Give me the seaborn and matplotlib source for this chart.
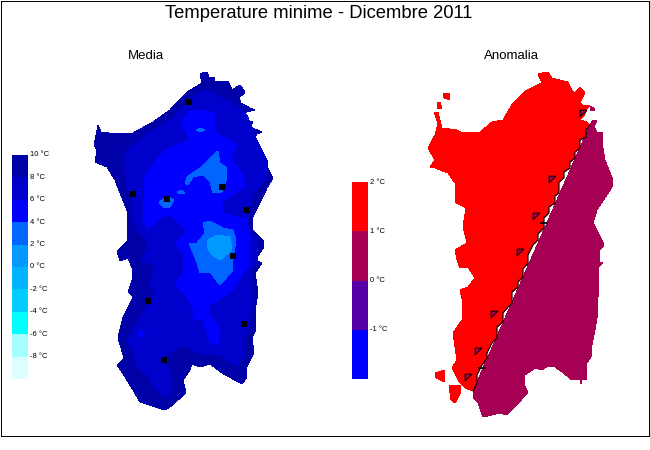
import matplotlib
matplotlib.use("Agg")
import matplotlib.pyplot as plt
import numpy as np
import seaborn as sns
from matplotlib.colors import ListedColormap

sns.set_theme(style="white")
plt.rcParams['font.family'] = ['Liberation Sans', 'DejaVu Sans']

TITLE = "Temperature minime - Dicembre 2011"
media_levels = ["10 °C", "8 °C", "6 °C", "4 °C", "2 °C", "0 °C", "-2 °C", "-4 °C", "-6 °C", "-8 °C"]
media_colors = ["#0000a8", "#0000cc", "#0000ff", "#0066ff", "#0099ff", "#00b3ff", "#00ccff", "#00ffff", "#a6ffff", "#ddffff"]
anom_levels = ["2 °C", "1 °C", "0 °C", "-1 °C"]
anom_colors = ["#ff0000", "#a60055", "#5500a6", "#0000ff"]

outline = [(200,74),(202,73),(207,72),(209,77),(214,77),(215,81),(228,81),(230,85),(232,90),(235,88),(240,85),(245,92),
           (243,95),(239,97),(241,103),(250,108),(255,110),(247,112),(238,115),(238,120),(245,121),(253,122),(250,127),
           (262,132),(257,134),(255,138),(263,153),(265,163),(273,178),(267,188),(253,217),(253,230),(263,240),
           (264,247),(255,260),(262,263),(255,273),(258,293),(255,310),(256,330),(252,338),(254,353),(247,367),(247,377),
           (242,384),(222,373),(210,364),(200,367),(192,364),(190,370),(183,380),(186,393),(170,407),(165,410),(140,402),
           (133,390),(125,377),(117,365),(124,358),(118,338),(123,317),(133,297),(128,292),(132,280),(133,270),(128,258),
           (120,261),(117,252),(128,240),(127,230),(128,213),(115,180),(107,167),(95,162),(97,150),(94,145),(98,125),
           (101,132),(117,134),(133,133),(153,122),(170,110),(187,92),(202,83)]
band_8 = [(207,90),(233,103),(247,115),(255,137),(267,160),(268,177),(253,193),(247,227),(257,240),(258,260),(250,273),
          (253,303),(247,333),(242,343),(245,353),(237,367),(220,355),(200,355),(185,345),(170,353),(163,360),(170,370),
          (172,390),(165,397),(153,387),(150,377),(137,367),(132,347),(127,343),(133,330),(143,313),(155,293),(150,283),
          (155,267),(142,260),(148,247),(145,237),(137,230),(132,215),(133,205),(127,187),(123,157),(130,147),(150,132),
          (170,120),(187,103),(203,90)]
band_6 = [(183,120),(190,110),(198,110),(215,113),(214,132),(237,145),(230,157),(242,173),(245,187),(223,200),(223,213),
          (247,220),(250,240),(250,263),(243,273),(233,290),(210,305),(208,313),(220,330),(218,345),(210,343),(203,320),
          (192,318),(195,312),(187,297),(175,285),(183,273),(183,253),(175,243),(185,233),(185,228),(170,215),(162,217),
          (148,228),(143,223),(145,177),(157,158),(170,148),(190,140),(182,125)]
band_4_a = [(185,183),(187,177),(200,168),(218,151),(220,163),(227,168),(227,178),(222,192),(213,193),(210,182),(203,175),(193,177),(188,185)]
band_4_b = [(159,202),(168,196),(174,200),(170,207),(164,208)]
band_4_c = [(177,192),(182,190),(185,193),(180,194)]
band_4_d = [(196,130),(200,128),(205,130),(200,132)]
band_4_e = [(203,223),(210,221),(223,228),(233,230),(236,240),(233,260),(233,270),(220,285),(210,272),(200,273),(197,263),
            (189,243),(197,243),(205,233)]
band_2 = [(208,240),(217,235),(230,237),(232,250),(220,260),(212,255),(207,247)]
patch_6_a = [(137,333),(141,331),(145,334),(141,337)]

stations_left_x = [189,133,167,222,247,148,233,244,164]
stations_left_y = [102,194,199,187,210,301,256,324,360]
stations_right_x = [552,536,583,520,494,478,468]
stations_right_y = [179,216,113,252,314,351,377]
dash_x = [544,482]
dash_y = [223,368]

red_north = [(538,74),(542,73),(548,72),(552,78),(560,80),(568,82),(572,90),(575,93),(580,87),(585,93),(580,103),(583,105),
             (590,106),(587,109),(585,114),(580,120),(587,122)]
red_boundary = [(590,125),(586,130),(586,137),(580,140),(580,148),(575,152),(575,158),(570,162),(570,168),(564,172),(564,178),
                (559,182),(559,193),(555,196),(555,203),(549,207),(549,213),(544,218),(544,228),(538,234),(538,240),(533,245),
                (528,255),(528,263),(523,269),(523,277),(518,282),(518,287),(512,292),(512,303),(508,307),(503,313),(503,322),
                (497,327),(497,338),(492,343),(487,353),(487,358),(482,365),(477,375),(477,383),(473,391)]
red_west = [(465,388),(458,380),(452,368),(457,360),(455,347),(453,333),(462,320),(463,303),(460,290),(468,287),(475,278),
            (468,267),(460,268),(457,260),(455,250),(467,243),(463,227),(466,208),(455,202),(455,183),(448,173),(435,168),
            (430,167),(435,160),(428,148),(435,135),(438,123),(434,112),(438,112),(442,128),(457,130),(463,133),(480,132),
            (492,122),(503,120),(513,103),(527,90),(542,83)]
red_island_a = [(443,93),(450,93),(450,100),(444,98)]
red_island_b = [(437,103),(440,102),(442,109),(437,109)]
red_island_c = [(435,373),(444,370),(445,382),(436,378)]
red_island_d = [(449,385),(460,385),(461,392),(455,403),(451,400)]
purple_region = [(590,125),(593,120),(597,120),(594,127),(597,132),(603,133),(602,143),(605,160),(613,180),(612,187),(597,210),
                 (593,223),(597,230),(604,245),(600,250),(600,262),(603,263),(599,267),(598,297),(597,318),(595,330),(592,345),
                 (592,355),(587,363),(587,379),(582,380),(581,384),(580,379),(572,380),(562,372),(555,367),(548,366),(542,370),
                 (535,368),(525,375),(524,385),(528,392),(515,407),(507,415),(500,413),(483,417),(478,403),(473,397),(473,391)]
purple_island = [(590,106),(594,108),(595,111),(590,110)]


def poly(ax, pts, color, z):
    xs, ys = zip(*pts)
    ax.fill(xs, ys, color=color, lw=0, antialiased=False, zorder=z)


fig = plt.figure(figsize=(6.5, 4.5), dpi=100, facecolor="white")
ax = fig.add_axes([0, 0, 1, 1])
ax.set_xlim(0, 650)
ax.set_ylim(450, 0)
ax.axis("off")

# frame
ax.plot([1, 649, 649, 1, 1], [1, 1, 435.5, 435.5, 1], color="black", lw=0.72, zorder=1, antialiased=False, clip_on=False)

# left map
poly(ax, outline, media_colors[0], 2)
poly(ax, band_8, media_colors[1], 3)
poly(ax, band_6, media_colors[2], 4)
for p in (band_4_a, band_4_b, band_4_c, band_4_d, band_4_e):
    poly(ax, p, media_colors[3], 5)
poly(ax, band_2, media_colors[4], 6)
poly(ax, patch_6_a, media_colors[2], 5)
sns.scatterplot(x=stations_left_x, y=stations_left_y, ax=ax, color="black", marker="s", s=16, linewidth=0, zorder=8)

# right map
poly(ax, purple_region, anom_colors[1], 2)
poly(ax, purple_island, anom_colors[1], 2)
poly(ax, red_north + red_boundary + red_west, anom_colors[0], 3)
for p in (red_island_a, red_island_b, red_island_c, red_island_d):
    poly(ax, p, anom_colors[0], 3)
bx, by = zip(*red_boundary)
ax.plot(bx, by, color="black", lw=0.85, zorder=4, antialiased=True, snap=False)
tri = [(-1, 1), (1, 1), (-1, -1), (-1, 1)]
sns.scatterplot(x=stations_right_x, y=stations_right_y, ax=ax, color=anom_colors[1], marker=tri, s=24,
                edgecolor="black", linewidth=0.7, zorder=8)
sns.scatterplot(x=dash_x, y=dash_y, ax=ax, color="black", marker="_", s=30, linewidth=1.2, zorder=8)


# colour legends as seaborn heatmaps
def legend(x0, y0, w, h, colors, labels, fs):
    lax = fig.add_axes([x0 / 650, 1 - (y0 + h) / 450, w / 650, h / 450])
    vals = np.arange(len(colors)).reshape(-1, 1)
    sns.heatmap(vals, ax=lax, cmap=ListedColormap(colors), cbar=False, xticklabels=False, yticklabels=False)
    step = h / len(colors)
    for i, lab in enumerate(labels):
        ax.text(x0 + w + 2, y0 + i * step, lab, fontsize=fs, va="center", ha="left", color="black")


legend(12, 155, 16, 224, media_colors, media_levels, 5.5)
legend(352, 182, 16, 197, anom_colors, anom_levels, 5.5)

ax.text(319, 13, TITLE, ha="center", va="center", fontsize=13.2, color="black")
ax.text(146, 56, "Media", ha="center", va="center", fontsize=9.5, color="black")
ax.text(511, 56, "Anomalia", ha="center", va="center", fontsize=9.5, color="black")

fig.savefig("out.png", dpi=100, facecolor="white")
